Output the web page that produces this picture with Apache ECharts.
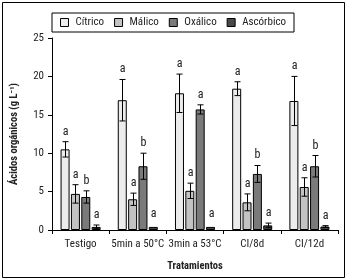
<!DOCTYPE html>
<html>
<head>
<meta charset="utf-8">
<script src="https://cdn.jsdelivr.net/npm/echarts@6/dist/echarts.min.js"></script>
<style>
  html, body { margin: 0; padding: 0; background: #fff; }
  #chart { width: 352px; height: 279px; }
</style>
</head>
<body>
<div id="chart"></div>
<script>
var categories = ["Testigo", "5min a 50°C", "3min a 53°C", "CI/8d", "CI/12d"];
var acidNames = ["Cítrico", "Málico", "Oxálico", "Ascórbico"];
var yTicks = [0, 5, 10, 15, 20, 25];

var citrico = [10.5, 16.9, 17.8, 18.4, 16.8];
var citricoErr = [1.0, 2.7, 2.5, 0.9, 3.2];
var malico = [4.7, 4.0, 5.1, 3.6, 5.6];
var malicoErr = [1.2, 0.8, 1.0, 1.1, 1.2];
var oxalico = [4.3, 8.3, 15.7, 7.3, 8.3];
var oxalicoErr = [0.8, 1.7, 0.6, 1.1, 1.4];
var ascorbico = [0.4, 0.4, 0.4, 0.6, 0.45];
var ascorbicoErr = [0.25, 0, 0, 0.3, 0.12];

var citricoLetters = ["a", "a", "a", "a", "a"];
var malicoLetters = ["a", "a", "a", "a", "a"];
var oxalicoLetters = ["b", "b", "a", "b", "b"];
var ascorbicoLetters = ["a", "a", "a", "a", "a"];

var values = [citrico, malico, oxalico, ascorbico];
var errors = [citricoErr, malicoErr, oxalicoErr, ascorbicoErr];
var letters = [citricoLetters, malicoLetters, oxalicoLetters, ascorbicoLetters];
var colors = ["#ececec", "#c3c3c3", "#7a7a7a", "#484848"];

var FONT = "'Roboto Condensed', 'Liberation Sans', sans-serif";
var BW = 9, GAP = 1.35;
var totalW = BW * 4 + GAP * 3;

var myChart = echarts.init(document.getElementById("chart"));

var series = [];
acidNames.forEach(function (name, k) {
  series.push({
    name: name,
    type: "bar",
    data: values[k],
    barWidth: BW,
    barGap: (GAP / BW * 100) + "%",
    itemStyle: { color: colors[k], borderColor: "#000", borderWidth: 1 },
    emphasis: { disabled: true },
    z: 2
  });
});
// barras de error + letras
acidNames.forEach(function (name, k) {
  var data = values[k].map(function (v, i) {
    return [i, v, errors[k][i], letters[k][i]];
  });
  series.push({
    name: "err" + k,
    type: "custom",
    data: data,
    encode: { x: 0, y: 1 },
    z: 5,
    silent: true,
    renderItem: function (params, api) {
      var i = api.value(0);
      var v = api.value(1);
      var e = api.value(2);
      var d = data[params.dataIndex];
      var c = api.coord([i, v]);
      var x = Math.round(c[0] - totalW / 2 + k * (BW + GAP) + BW / 2) + 0.5;
      var top = api.coord([i, v + e])[1];
      var bot = api.coord([i, v - e])[1];
      var children = [];
      if (e > 0) {
        var st = { stroke: "#000", lineWidth: 1 };
        children.push({ type: "line", shape: { x1: x, y1: top, x2: x, y2: bot }, style: st });
        children.push({ type: "line", shape: { x1: x - 3, y1: top, x2: x + 3, y2: top }, style: st });
        children.push({ type: "line", shape: { x1: x - 3, y1: bot, x2: x + 3, y2: bot }, style: st });
      }
      children.push({
        type: "text",
        style: {
          text: d[3], x: x, y: top - (e > 0 ? 4 : 7),
          textAlign: "center", textVerticalAlign: "bottom",
          font: "12px " + FONT, fill: "#222"
        }
      });
      return { type: "group", children: children };
    }
  });
});

myChart.setOption({
  backgroundColor: "#fff",
  animation: false,
  grid: { left: 52, right: 14, top: 38, bottom: 49 },
  graphic: [{
    type: "rect",
    shape: { x: 2.5, y: 2.5, width: 342, height: 275 },
    style: { fill: "none", stroke: "#000", lineWidth: 1 },
    z: -1
  }],
  legend: {
    data: acidNames,
    left: 52,
    top: 13,
    padding: [4, 8, 4, 8],
    itemGap: 10,
    itemWidth: 8,
    itemHeight: 8,
    icon: "rect",
    borderColor: "#000",
    borderWidth: 1,
    borderRadius: 0,
    selectedMode: false,
    itemStyle: { borderColor: "#000", borderWidth: 1 },
    textStyle: { fontFamily: FONT, fontSize: 11, color: "#222", padding: [0, 0, 0, 2] }
  },
  xAxis: {
    type: "category",
    data: categories,
    name: "Tratamientos",
    nameLocation: "middle",
    nameGap: 31,
    nameTextStyle: { fontFamily: FONT, fontSize: 10.5, fontWeight: "bold", color: "#222" },
    axisLine: { lineStyle: { color: "#000" } },
    axisTick: { show: true, length: 4, lineStyle: { color: "#000" } },
    axisLabel: { fontFamily: FONT, fontSize: 11, color: "#222", margin: 9, interval: 0 }
  },
  yAxis: {
    type: "value",
    min: yTicks[0],
    max: yTicks[yTicks.length - 1],
    interval: 5,
    name: "Ácidos orgánicos (g L⁻¹)",
    nameLocation: "middle",
    nameGap: 32,
    nameTextStyle: { fontFamily: FONT, fontSize: 10.5, fontWeight: "bold", color: "#222" },
    axisLine: { show: true, lineStyle: { color: "#000" } },
    axisTick: { show: true, length: 4, lineStyle: { color: "#000" } },
    splitLine: { show: false },
    axisLabel: { fontFamily: FONT, fontSize: 11, color: "#222", margin: 8 }
  },
  series: series
});
</script>
</body>
</html>
